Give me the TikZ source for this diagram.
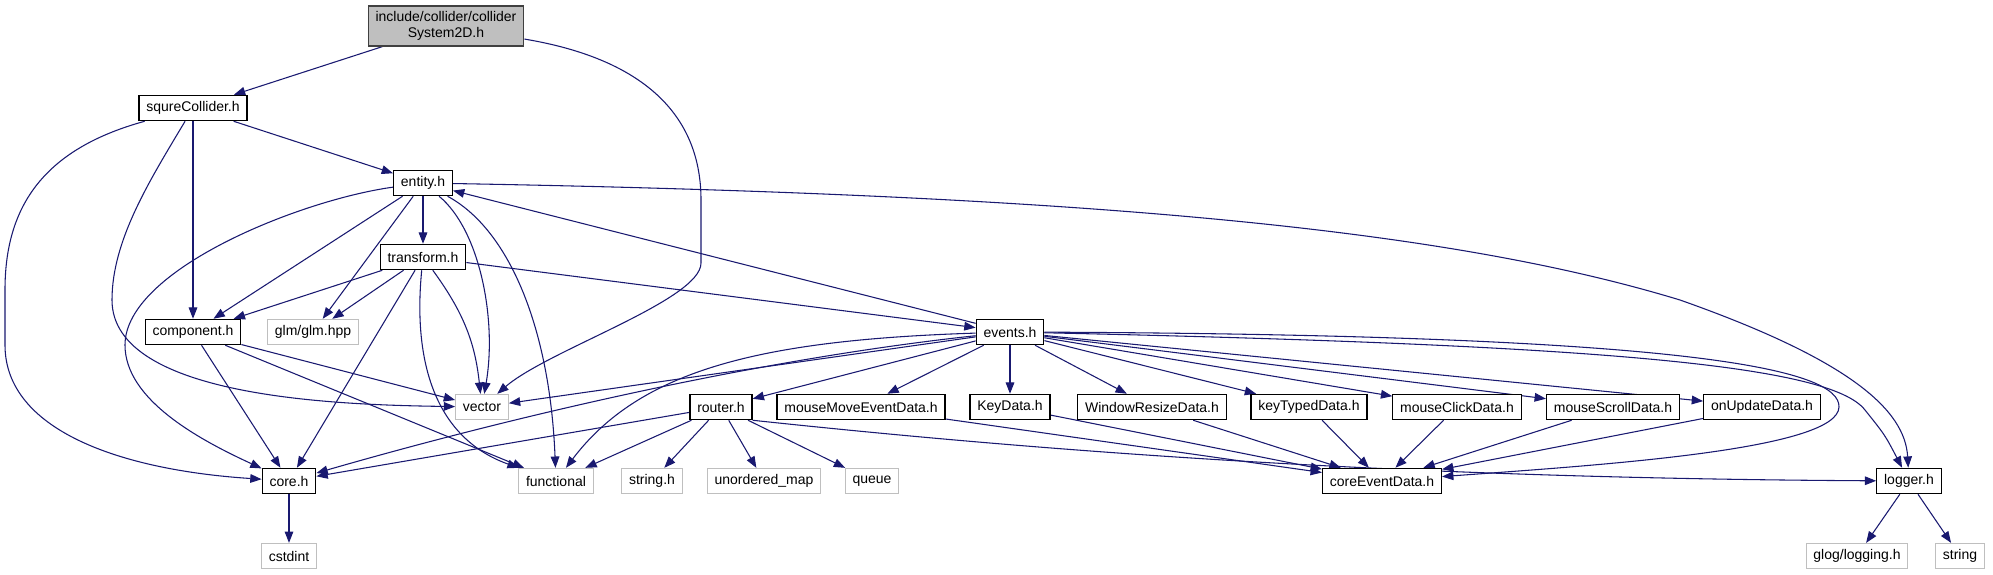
\documentclass[tikz,border=0pt]{standalone}
\usepackage{fontspec}
\setmainfont{Liberation Sans}
\usepackage{tikz}
\usetikzlibrary{arrows.meta,backgrounds}
\definecolor{edg}{RGB}{25,25,112}
\definecolor{grb}{RGB}{191,191,191}
\definecolor{rtb}{RGB}{64,64,64}

\tikzset{
  hdr/.style={draw=black,line width=0.9pt,fill=white,inner xsep=5.5pt,inner ysep=2pt,minimum height=19pt},
  ext/.style={hdr,draw=grb,line width=0.75pt},
  dep/.style={edg,line width=0.8pt,-{Triangle[length=8.5pt,width=6.5pt]}}
}

\begin{document}
\begin{tikzpicture}[x=0.75pt,y=-0.75pt,font=\fontsize{10.5}{12.5}\selectfont]
  \useasboundingbox (0,0) rectangle (1993,575);
  \node[hdr,fill=grb,draw=rtb,align=center,minimum height=30pt] (root) at (446,26) {include/collider/collider\\System2D.h};
  \node[hdr] (sqc) at (193,108) {squreCollider.h};
  \node[hdr] (ent) at (423,183) {entity.h};
  \node[hdr] (trf) at (423,257) {transform.h};
  \node[hdr] (cmp) at (193,332) {component.h};
  \node[ext] (glm) at (313,332) {glm/glm.hpp};
  \node[ext] (vec) at (482,407) {vector};
  \node[hdr] (core) at (289,481) {core.h};
  \node[ext] (fun) at (556,481) {functional};
  \node[ext] (strh) at (652,481) {string.h};
  \node[ext] (cstd) at (289,556) {cstdint};
  \node[hdr] (evt) at (1010,332) {events.h};
  \node[hdr] (rtr) at (721,407) {router.h};
  \node[hdr] (mme) at (861,407) {mouseMoveEventData.h};
  \node[hdr] (key) at (1010,407) {KeyData.h};
  \node[hdr] (wrd) at (1152,407) {WindowResizeData.h};
  \node[hdr] (ktd) at (1309,407) {keyTypedData.h};
  \node[hdr] (mcd) at (1457,407) {mouseClickData.h};
  \node[hdr] (msd) at (1613,407) {mouseScrollData.h};
  \node[hdr] (oud) at (1762,407) {onUpdateData.h};
  \node[ext] (umap) at (764,481) {unordered\_map};
  \node[ext] (que) at (872,481) {queue};
  \node[hdr] (ced) at (1382,481) {coreEventData.h};
  \node[hdr] (log) at (1909,481) {logger.h};
  \node[ext] (glog) at (1857,556) {glog/logging.h};
  \node[ext] (str) at (1960,556) {string};

  \begin{scope}[on background layer]
  % header itself
  \draw[dep] (root) -- (sqc);
  \draw[dep] (root) .. controls (650,60) and (701,120) .. (701,200) -- (701,263)
    .. controls (701,300) and (548,350) .. (vec);
  % squreCollider.h
  \draw[dep] (sqc) -- (ent);
  \draw[dep] (sqc) -- (cmp);
  \draw[dep] (sqc) .. controls (40,150) and (5,210) .. (5,290) -- (5,345)
    .. controls (5,430) and (120,470) .. (core);
  \draw[dep] (sqc) .. controls (150,180) and (112,240) .. (112,300)
    .. controls (112,400) and (350,405) .. (vec);
  % entity.h
  \draw[dep] (ent) -- (trf);
  \draw[dep] (ent) -- (cmp);
  \draw[dep] (ent) -- (glm);
  \draw[dep] (ent) .. controls (300,200) and (125,270) .. (125,345)
    .. controls (125,400) and (200,440) .. (core);
  \draw[dep] (ent) .. controls (480,230) and (497,320) .. (vec);
  \draw[dep] (ent) .. controls (510,230) and (550,330) .. (fun);
  \draw[dep] (ent) .. controls (1100,195) and (1450,230) .. (1680,300)
    .. controls (1850,360) and (1905,410) .. (log);
  % transform.h
  \draw[dep] (trf) -- (cmp);
  \draw[dep] (trf) -- (glm);
  \draw[dep] (trf) -- (core);
  \draw[dep] (trf) to[bend left=15] (vec);
  \draw[dep] (trf) .. controls (412,370) and (440,440) .. (fun);
  \draw[dep] (trf) -- (evt);
  % events.h
  \draw[dep] (evt) -- (ent);
  \draw[dep] (evt) -- (vec);
  \draw[dep] (evt) .. controls (750,360) and (500,420) .. (core);
  \draw[dep] (evt) .. controls (760,340) and (640,370) .. (fun);
  \foreach \t in {rtr,mme,key,wrd,ktd,mcd,msd,oud}
    \draw[dep] (evt) -- (\t);
  \draw[dep] (evt) .. controls (1700,335) and (1840,370) .. (1839,407)
    .. controls (1838,450) and (1600,465) .. (ced);
  \draw[dep] (evt) .. controls (1600,345) and (1830,365) .. (1865,410)
    .. controls (1885,435) .. (log);
  % component.h, core.h
  \draw[dep] (cmp) -- (vec);
  \draw[dep] (cmp) -- (core);
  \draw[dep] (cmp) -- (fun);
  \draw[dep] (core) -- (cstd);
  % router.h
  \foreach \t in {core,fun,strh,umap,que}
    \draw[dep] (rtr) -- (\t);
  \draw[dep] (rtr.south east) .. controls (1050,452) and (1400,478) .. (log);
  % event data
  \foreach \s in {mme,key,wrd,ktd,mcd,msd,oud}
    \draw[dep] (\s) -- (ced);
  % logger.h
  \draw[dep] (log) -- (glog);
  \draw[dep] (log) -- (str);
  \end{scope}
\end{tikzpicture}
\end{document}
